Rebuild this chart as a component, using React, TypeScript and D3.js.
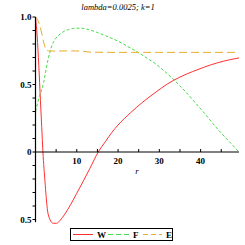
import React from "react";
import * as d3 from "d3";

// curve samples (r, value)
const rW = [0, 0.4, 0.8, 1.2, 1.5, 1.8, 2.3, 2.86, 3.5, 4.3, 5.1, 6, 7, 8.5, 10, 11.5, 13.2, 15.2, 17, 18.5, 20, 23, 26, 29, 32, 35, 38, 41, 44, 47, 49.3];
const W = [1.0, 0.86, 0.64, 0.38, 0.19, 0, -0.22, -0.42, -0.5, -0.528, -0.528, -0.505, -0.465, -0.39, -0.306, -0.22, -0.12, 0, 0.08, 0.145, 0.2, 0.29, 0.37, 0.44, 0.505, 0.555, 0.595, 0.63, 0.66, 0.683, 0.697];

const rF = [0, 0.5, 1, 1.5, 2, 2.5, 3, 3.5, 4, 5, 6, 7, 8, 9, 10, 11, 13, 15, 17, 19, 21, 23, 25, 27, 29, 31, 33, 35, 37, 39, 41, 43, 45, 47, 49.3];
const F = [0.3, 0.36, 0.42, 0.46, 0.52, 0.6, 0.68, 0.74, 0.79, 0.845, 0.875, 0.895, 0.907, 0.914, 0.917, 0.917, 0.905, 0.885, 0.86, 0.835, 0.805, 0.77, 0.735, 0.695, 0.655, 0.605, 0.55, 0.49, 0.425, 0.355, 0.285, 0.21, 0.14, 0.075, 0.0];

const rE = [0, 0.5, 1, 1.5, 2, 2.4, 2.8, 3.5, 5, 8, 11, 12.5, 14, 20, 30, 40, 49.3];
const E = [1.0, 0.98, 0.94, 0.88, 0.81, 0.77, 0.752, 0.748, 0.748, 0.749, 0.748, 0.742, 0.739, 0.738, 0.738, 0.738, 0.738];

const xTicks = [10, 20, 30, 40];
const yTicks = [-0.5, 0, 0.5, 1.0];
const yLabels = ["0.5", "0", "0.5", "1.0"];
const names = ["W", "F", "E"];
const colors = ["#ff3030", "#44dd44", "#e4ae2c"];
const dashes = ["none", "3,2", "8,4"];
const legendDashes = ["none", "5,3", "5,3"];

export default function App() {
  const x = d3.scaleLinear().domain([0, 49.3]).range([35.5, 239]);
  const y = d3.scaleLinear().domain([-0.5, 1.0]).range([219.5, 17]);
  const font = "'Liberation Serif', 'DejaVu Serif', serif";

  const line = d3.line<[number, number]>()
    .x((d) => x(d[0]))
    .y((d) => y(d[1]))
    .curve(d3.curveMonotoneX);

  const series = [
    d3.zip(rW, W) as [number, number][],
    d3.zip(rF, F) as [number, number][],
    d3.zip(rE, E) as [number, number][],
  ];

  const minorY = d3.range(-5, 11).map((i) => i / 10);
  const minorX = d3.range(5, 50, 5);

  // legend layout
  const legX = 70, legY = 228.5, legW = 102, legH = 12;
  const lineX = [[73, 93], [108, 130], [143, 162]];
  const labelX = [97, 133, 166];

  return (
    <svg width={245} height={245} style={{ position: "fixed", left: 0, top: 0, background: "#fff" }}>
      <text x={118} y={10} textAnchor="middle" fontFamily={font} fontStyle="italic" fontSize={8.5}>
        lambda=0.0025; k=1
      </text>

      {series.map((s, i) => (
        <path key={names[i]} d={line(s) || ""} fill="none" stroke={colors[i]}
          strokeWidth={1} strokeDasharray={dashes[i]} />
      ))}

      {/* y axis */}
      <line x1={x(0)} x2={x(0)} y1={y(1.0)} y2={y(-0.52)} stroke="#000" strokeWidth={1.2} />
      {minorY.map((v) => (
        <line key={"my" + v} x1={x(0) - 3} x2={x(0)} y1={y(v)} y2={y(v)} stroke="#000" strokeWidth={1} />
      ))}
      {yTicks.map((v, i) => (
        <text key={"yl" + v} x={x(0) - 4} y={y(v) + 3} textAnchor="end" fontFamily={font}
          fontWeight="bold" fontSize={9}>{yLabels[i]}</text>
      ))}

      {/* x axis */}
      <line x1={x(0)} x2={x(49.3)} y1={y(0)} y2={y(0)} stroke="#000" strokeWidth={1} />
      {minorX.map((v) => (
        <line key={"mx" + v} x1={x(v)} x2={x(v)} y1={y(0)} y2={y(0) - 3} stroke="#000" strokeWidth={1} />
      ))}
      {xTicks.map((v) => (
        <text key={"xl" + v} x={x(v)} y={y(0) + 12} textAnchor="middle" fontFamily={font}
          fontWeight="bold" fontSize={9}>{v}</text>
      ))}
      <text x={137} y={174} textAnchor="middle" fontFamily={font} fontStyle="italic" fontSize={9}>r</text>

      {/* legend */}
      <rect x={legX + 0.5} y={legY} width={legW} height={legH} fill="#fff" stroke="#000" strokeWidth={1} />
      {names.map((n, i) => (
        <g key={"lg" + n}>
          <line x1={lineX[i][0]} x2={lineX[i][1]} y1={234.5} y2={234.5} stroke={colors[i]}
            strokeWidth={1} strokeDasharray={legendDashes[i]} />
          <text x={labelX[i]} y={238} fontFamily={font} fontWeight="bold" fontSize={9}>{n}</text>
        </g>
      ))}
    </svg>
  );
}
